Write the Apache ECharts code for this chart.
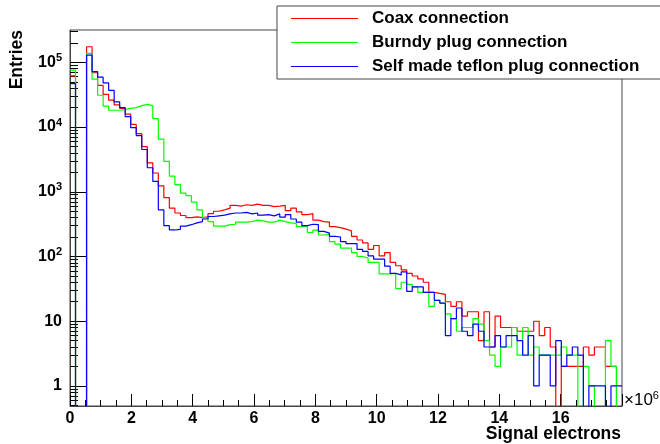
<!doctype html>
<html>
<head>
<meta charset="utf-8">
<title>Signal electrons</title>
<script src="https://cdn.jsdelivr.net/npm/echarts@6/dist/echarts.min.js"></script>
<style>html,body{margin:0;padding:0;background:#fff}</style>
</head>
<body>
<div id="chart" style="width:660px;height:444px;"></div>
<script>
// histogram: 100 bins of 0.18 (x 10^6 electrons) from 0 to 18
var binWidth = 0.18;
var xMax = 18;
var seriesNames = ['Coax connection', 'Burndy plug connection', 'Self made teflon plug connection'];
var seriesColors = ['#ff0000', '#00ff00', '#0000ff'];

var coax = [62000, 0, 0, 174000, 69000, 44000, 32000, 26000, 22000, 19500,
    15800, 11000, 7900, 5000, 2800, 1950, 1230, 810, 560, 470,
    430, 400, 410, 400, 410, 460, 500, 525, 560, 615,
    600, 630, 615, 645, 615, 615, 590, 600, 615, 510,
    560, 490, 445, 460, 365, 345, 340, 290, 280, 265,
    250, 205, 180, 162, 129, 148, 102, 115, 81, 72,
    62, 55, 50, 45, 40, 28, 27, 26, 20, 17,
    20, 12, 14, 14, 5, 14, 4, 12, 8, 8,
    8, 7, 7, 7, 10, 6, 8, 4, 0, 2,
    2, 2, 2, 4, 3, 4, 4, 2, 2, 0];

var burndy = [76000, 0, 0, 138000, 55000, 31000, 21000, 18200, 18200, 18600,
    19500, 20000, 21400, 22400, 21400, 13500, 6500, 2950, 1740, 1290,
    955, 870, 690, 525, 400, 345, 295, 295, 310, 315,
    340, 340, 345, 365, 355, 340, 340, 365, 345, 330,
    325, 290, 295, 235, 255, 215, 220, 170, 155, 135,
    135, 115, 100, 95, 81, 81, 54, 54, 55, 32,
    40, 37, 34, 28, 28, 17, 21, 19, 13, 11,
    7, 8, 8, 11, 9, 5, 3, 2, 4, 4,
    8, 3, 8, 3, 4, 3, 3, 3, 3, 4,
    3, 3, 0, 2, 1, 0, 0, 5, 2, 0];

var teflon = [47000, 0, 0, 129000, 72000, 59000, 48000, 37000, 24500, 20000,
    14500, 9800, 7400, 4500, 2350, 1450, 525, 300, 257, 263,
    295, 310, 330, 345, 380, 415, 425, 435, 455, 470,
    470, 480, 455, 470, 435, 445, 425, 455, 405, 445,
    380, 340, 300, 315, 310, 245, 230, 205, 200, 170,
    158, 158, 129, 120, 102, 91, 91, 71, 55, 52,
    58, 29, 34, 34, 28, 28, 21, 19, 6, 11,
    16, 7, 6, 9, 7, 4, 4, 6, 4, 6,
    6, 5, 3, 6, 1, 3, 3, 1, 5, 2,
    3, 4, 3, 0, 1, 1, 1, 0, 1, 1];

var yMin = 0.49, yMax = 3.16e5;
var yMajorTicks = [1, 10, 100, 1000, 10000, 100000];
var yTickLabels = ['1', '10', '10{s|2}', '10{s|3}', '10{s|4}', '10{s|5}'];

var FONT = '"Liberation Sans", Arial, sans-serif';

// minor ticks 2..9 in every decade
var yMinorTicks = [];
for (var d = 0.1; d <= 1e5; d *= 10) {
    for (var k = 2; k <= 9; k++) {
        var t = +(k * d).toPrecision(3);
        if (t > yMin && t < yMax) yMinorTicks.push(t);
    }
}

// empty bins are pushed below the axis so the step drops to the frame
function toSteps(counts) {
    var pts = [];
    for (var i = 0; i < counts.length; i++) {
        pts.push([+(i * binWidth).toFixed(2), counts[i] > 0 ? counts[i] : 0.05]);
    }
    pts.push([xMax, pts[pts.length - 1][1]]);
    return pts;
}

var chart = echarts.init(document.getElementById('chart'));
var allCounts = [coax, burndy, teflon];
var series = allCounts.map(function (c, i) {
    return {
        name: seriesNames[i],
        type: 'line',
        step: 'end',
        symbol: 'none',
        clip: true,
        yAxisIndex: 0,
        color: seriesColors[i],
        lineStyle: {width: 1.2, color: seriesColors[i]},
        data: toSteps(c)
    };
});

var option = {
    animation: false,
    backgroundColor: '#fff',
    grid: {left: 70, right: 38, top: 30, bottom: 38, show: true, borderColor: '#444', borderWidth: 1},
    legend: {
        orient: 'vertical',
        left: 277, top: 6,
        padding: [4, 22, 4, 14],
        icon: 'rect',
        itemWidth: 67, itemHeight: 1, itemGap: 7,
        backgroundColor: '#fff',
        borderColor: '#444', borderWidth: 1,
        textStyle: {fontFamily: FONT, fontWeight: 'bold', fontSize: 17, color: '#000', lineHeight: 16, padding: [0, 0, 0, 9]},
        data: seriesNames
    },
    xAxis: {
        type: 'value', min: 0, max: xMax, interval: 2,
        axisLine: {lineStyle: {color: '#444'}},
        axisTick: {inside: true, length: 12, lineStyle: {color: '#000'}},
        minorTick: {show: true, splitNumber: 4, length: 6, lineStyle: {color: '#000'}},
        splitLine: {show: false},
        axisLabel: {showMaxLabel: false, margin: 5, fontFamily: FONT, fontWeight: 'bold', fontSize: 16, color: '#000'}
    },
    yAxis: [{
        type: 'log', logBase: 10, min: yMin, max: yMax,
        axisLine: {show: true, lineStyle: {color: '#444'}},
        axisTick: {inside: true, length: 16, lineStyle: {color: '#000'}, customValues: yMajorTicks},
        splitLine: {show: false},
        axisLabel: {
            margin: 8, fontFamily: FONT, fontWeight: 'bold', fontSize: 16, color: '#000',
            customValues: yMajorTicks,
            formatter: function (v) {
                var i = yMajorTicks.indexOf(v);
                return i >= 0 ? yTickLabels[i] : '';
            },
            rich: {s: {fontFamily: FONT, fontWeight: 'bold', fontSize: 11, color: '#000', padding: [0, 0, 9, 0]}}
        }
    }, {
        type: 'log', logBase: 10, min: yMin, max: yMax, position: 'left',
        axisLine: {show: false},
        axisTick: {inside: true, length: 8, lineStyle: {color: '#000'}, customValues: yMinorTicks},
        axisLabel: {show: false},
        splitLine: {show: false}
    }],
    graphic: [
        {type: 'text', x: 17, y: 30, rotation: Math.PI / 2,
            style: {text: 'Entries', fontFamily: FONT, fontWeight: 'bold', fontSize: 17.5, fill: '#000', align: 'right', verticalAlign: 'middle'}},
        {type: 'text', x: 621, y: 434,
            style: {text: 'Signal electrons', fontFamily: FONT, fontWeight: 'bold', fontSize: 17.5, fill: '#000', align: 'right', verticalAlign: 'middle'}},
        {type: 'text', x: 624, y: 400,
            style: {text: '\u00d710{s|6}', fontFamily: FONT, fontSize: 17, fill: '#000', align: 'left', verticalAlign: 'middle',
                rich: {s: {fontFamily: FONT, fontSize: 11, fill: '#000', padding: [0, 0, 9, 0]}}}}
    ],
    series: series
};

chart.setOption(option);
</script>
</body>
</html>
